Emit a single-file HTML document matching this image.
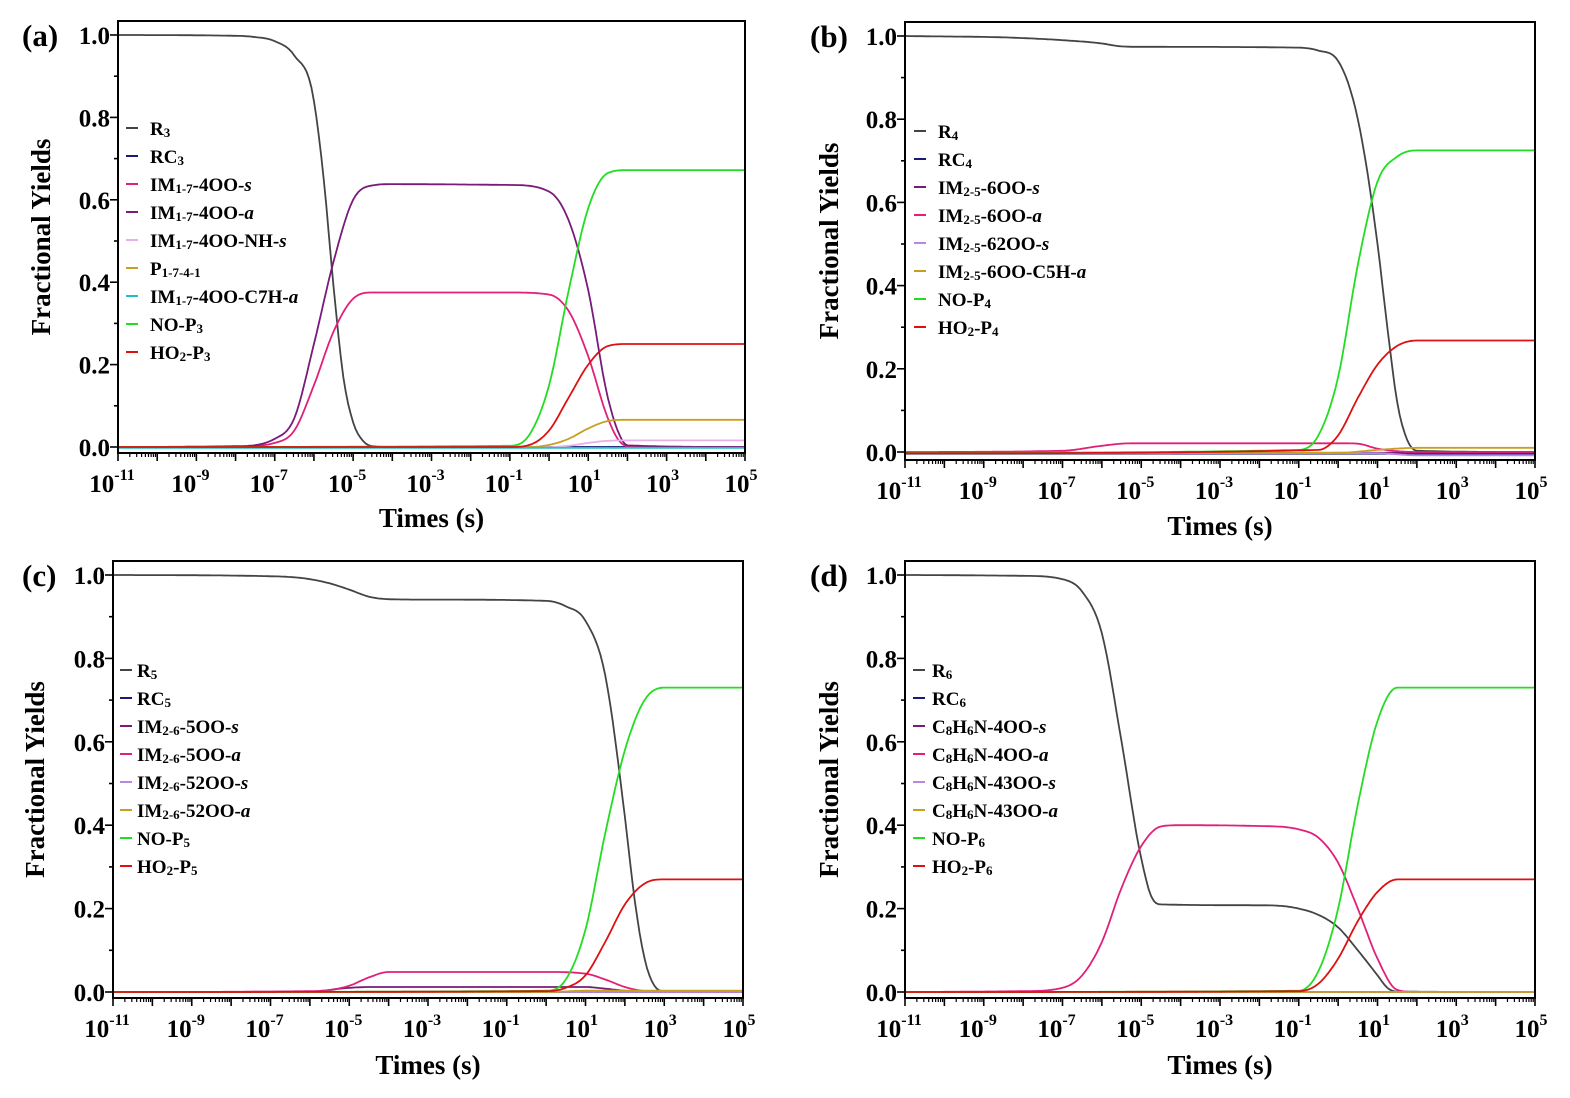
<!DOCTYPE html>
<html><head><meta charset="utf-8"><style>
body{margin:0;background:#fff;}
svg{display:block;font-family:"Liberation Serif",serif;font-weight:bold;}
</style></head><body>
<svg id="fig" width="1570" height="1098" viewBox="0 0 1570 1098"></svg>
<script>
// ---------- data (x = log10 time, y = fractional yield) ----------
const xTickExps = [-11,-9,-7,-5,-3,-1,1,3,5];
const yTickLabels = ["0.0","0.2","0.4","0.6","0.8","1.0"];
const yTickValues = [0,0.2,0.4,0.6,0.8,1.0];

const aR3   = [[-11,1],[-8,0.998],[-7.5,0.995],[-7,0.985],[-6.5,0.95],[-6,0.84],[-5.75,0.65],[-5.5,0.39],[-5.25,0.17],[-5,0.06],[-4.75,0.015],[-4.5,0.002],[-4,0],[5,0]];
const aRC3  = [[-11,0],[5,0]];
const aIMs  = [[-11,0],[-8,0.001],[-7,0.01],[-6.5,0.04],[-6,0.15],[-5.5,0.28],[-5,0.36],[-4.5,0.375],[-1,0.375],[0,0.37],[0.5,0.33],[1,0.22],[1.5,0.07],[1.75,0.02],[2,0.002],[5,0]];
const aIMa  = [[-11,0],[-8,0.002],[-7,0.02],[-6.5,0.07],[-6,0.25],[-5.5,0.45],[-5,0.6],[-4.5,0.635],[-4,0.638],[-1,0.636],[0,0.62],[0.5,0.55],[1,0.38],[1.5,0.12],[1.75,0.04],[2,0.004],[5,0]];
const aNHs  = [[-11,0],[0,0],[0.5,0.003],[1,0.01],[1.5,0.015],[2,0.016],[5,0.016]];
const aP    = [[-11,0],[-0.5,0],[0,0.005],[0.5,0.02],[1,0.045],[1.5,0.063],[2,0.066],[5,0.066]];
const aC7H  = [[-11,-0.002],[5,-0.002]];
const aNO   = [[-11,0],[-1,0.003],[-0.5,0.03],[0,0.15],[0.5,0.38],[1,0.58],[1.5,0.665],[2,0.672],[5,0.672]];
const aHO2  = [[-11,0],[-1,0],[-0.5,0.005],[0,0.04],[0.5,0.12],[1,0.2],[1.5,0.245],[2,0.25],[5,0.25]];

const bR4   = [[-11,1],[-8,0.995],[-7,0.99],[-6,0.982],[-5.5,0.975],[-5,0.974],[-1,0.972],[-0.5,0.965],[0,0.94],[0.5,0.8],[1,0.5],[1.25,0.3],[1.5,0.12],[1.75,0.03],[2,0.003],[5,0]];
const bRC4  = [[-11,-0.004],[5,-0.004]];
const bIMs  = [[-11,-0.002],[5,-0.002]];
const bIMa  = [[-11,0],[-7,0.003],[-6,0.015],[-5.5,0.02],[-5,0.021],[0,0.021],[0.5,0.02],[1,0.008],[1.5,0.002],[2,0],[5,0]];
const b62s  = [[-11,-0.003],[1,-0.003],[2,-0.008],[5,-0.008]];
const bC5H  = [[-11,-0.003],[0,-0.002],[1,0.005],[2,0.01],[5,0.01]];
const bNO   = [[-11,-0.002],[-1,0.005],[-0.5,0.04],[0,0.18],[0.5,0.45],[1,0.65],[1.5,0.71],[2,0.725],[5,0.725]];
const bHO2  = [[-11,-0.003],[-0.5,0.005],[0,0.04],[0.5,0.13],[1,0.21],[1.5,0.255],[2,0.268],[5,0.268]];

const cR5   = [[-11,1],[-7,0.997],[-6,0.99],[-5.5,0.98],[-5,0.965],[-4.5,0.948],[-4,0.942],[-3,0.941],[0,0.938],[0.5,0.925],[1,0.89],[1.5,0.76],[2,0.42],[2.25,0.22],[2.5,0.08],[2.75,0.015],[3,0.002],[5,0]];
const cRC5  = [[-11,0],[5,0]];
const cIMs  = [[-11,0],[-6,0.001],[-5,0.01],[-4.5,0.012],[1,0.012],[1.5,0.008],[2,0.003],[2.5,0],[5,0]];
const cIMa  = [[-11,0],[-6,0.002],[-5,0.015],[-4.5,0.035],[-4,0.048],[0,0.048],[1,0.044],[1.5,0.03],[2,0.012],[2.5,0.002],[3,0],[5,0]];
const c52s  = [[-11,0],[5,0]];
const c52a  = [[-11,0],[0,0],[1,0.003],[5,0.003]];
const cNO   = [[-11,0],[0,0.003],[0.5,0.03],[1,0.15],[1.5,0.38],[2,0.58],[2.5,0.7],[3,0.73],[5,0.73]];
const cHO2  = [[-11,0],[0,0.002],[0.5,0.01],[1,0.04],[1.5,0.12],[2,0.21],[2.5,0.26],[3,0.27],[5,0.27]];

const dR6   = [[-11,1],[-8,0.998],[-7,0.99],[-6.5,0.96],[-6,0.86],[-5.5,0.6],[-5,0.32],[-4.75,0.23],[-4.5,0.21],[-2,0.208],[-1,0.2],[-0.5,0.185],[0,0.155],[0.5,0.1],[1,0.04],[1.25,0.01],[1.5,0.001],[5,0]];
const dRC6  = [[-11,0],[5,0]];
const dIMs  = [[-11,0],[5,0]];
const dIMa  = [[-11,0],[-8,0.002],[-7,0.01],[-6.5,0.04],[-6,0.12],[-5.5,0.25],[-5,0.35],[-4.5,0.397],[-4,0.4],[-2,0.398],[-1,0.39],[-0.5,0.37],[0,0.31],[0.5,0.2],[1,0.08],[1.5,0.005],[2,0],[5,0]];
const d43s  = [[-11,0],[5,0]];
const d43a  = [[-11,0],[5,0]];
const dNO   = [[-11,0],[-1,0.003],[-0.5,0.05],[0,0.2],[0.5,0.45],[1,0.65],[1.5,0.73],[5,0.73]];
const dHO2  = [[-11,0],[-1,0.002],[-0.5,0.02],[0,0.08],[0.5,0.17],[1,0.24],[1.5,0.27],[5,0.27]];

// ---------- drawing ----------
const NS="http://www.w3.org/2000/svg";
const svg=document.getElementById('fig');
function mk(tag,attrs,parent){const e=document.createElementNS(NS,tag);for(const k in attrs)e.setAttribute(k,attrs[k]);(parent||svg).appendChild(e);return e;}

const COL={R:'#444444',RC:'#1a1a7a',pink:'#e0207a',purple:'#7a1a7a',lpink:'#e8b0e8',lav:'#b58ae0',gold:'#c8a020',cyan:'#20c0c8',green:'#22dd22',red:'#dd1111'};

function monotone(pts){
  const n=pts.length,xs=pts.map(p=>p[0]),ys=pts.map(p=>p[1]);
  if(n<3)return pts;
  const d=[],m=new Array(n);
  for(let i=0;i<n-1;i++)d.push((ys[i+1]-ys[i])/(xs[i+1]-xs[i]));
  m[0]=d[0];m[n-1]=d[n-2];
  for(let i=1;i<n-1;i++){
    if(d[i-1]*d[i]<=0){m[i]=0;}
    else{const h0=xs[i]-xs[i-1],h1=xs[i+1]-xs[i];m[i]=(d[i-1]*h1+d[i]*h0)/(h0+h1);}
  }
  for(let i=0;i<n-1;i++){if(d[i]===0){m[i]=0;m[i+1]=0;continue;}const a=m[i]/d[i],b=m[i+1]/d[i],s=a*a+b*b;if(s>9){const t=3/Math.sqrt(s);m[i]=t*a*d[i];m[i+1]=t*b*d[i];}}
  const out=[];
  for(let i=0;i<n-1;i++){const h=xs[i+1]-xs[i];const steps=Math.max(2,Math.ceil(h*16));
    for(let k=0;k<steps;k++){const t=k/steps,t2=t*t,t3=t2*t;
      const y=(2*t3-3*t2+1)*ys[i]+(t3-2*t2+t)*h*m[i]+(-2*t3+3*t2)*ys[i+1]+(t3-t2)*h*m[i+1];
      out.push([xs[i]+t*h,y]);}}
  out.push([xs[n-1],ys[n-1]]);return out;
}

function panel(cfg){
  const g=mk('g',{});
  
  
  const X=v=>cfg.x0+(v+11)/16*(cfg.x1-cfg.x0);
  const Y=v=>cfg.y0+v*(cfg.y1-cfg.y0);
  const sg=mk('g',{},g);
  
  
  cfg.series.forEach(s=>{
    const pts=monotone(s.data);
    const dstr=pts.map((p,i)=>(i?'L':'M')+X(p[0]).toFixed(1)+','+Y(p[1]).toFixed(1)).join('');
    const p=mk('path',{d:dstr,fill:'none',stroke:s.c,'stroke-width':1.8,'stroke-linejoin':'round'},sg);
    
    
  });
  const fr=mk('rect',{x:cfg.x0,y:cfg.top,width:cfg.x1-cfg.x0,height:cfg.bot-cfg.top,fill:'none',stroke:'#000','stroke-width':2},g);
  
  
  for(let e=-11;e<=5;e++){
    mk('line',{x1:X(e),x2:X(e),y1:cfg.bot,y2:cfg.bot+8,stroke:'#000','stroke-width':1.6},g);
    if(e<5)for(let k=2;k<=9;k++){const xv=X(e+Math.log10(k));mk('line',{x1:xv,x2:xv,y1:cfg.bot,y2:cfg.bot+4,stroke:'#000','stroke-width':1.2},g);}
  }
  xTickExps.forEach(e=>{
    const t=mk('text',{x:X(e)+(e<0?-6:-4),y:cfg.bot+39,'font-size':25,'text-anchor':'middle'},g);
    
    
    t.innerHTML='10<tspan font-size="16" dy="-12">'+e+'</tspan>';
  });
  for(let i=0;i<=10;i++){const v=i/10;const yy=Y(v);mk('line',{x1:cfg.x0-(i%2?4:8),x2:cfg.x0,y1:yy,y2:yy,stroke:'#000','stroke-width':1.6},g);}
  yTickValues.forEach((v,i)=>{
    const t=mk('text',{x:cfg.x0-8,y:Y(v)+9,'font-size':25,'text-anchor':'end'},g);
    
    
    t.textContent=yTickLabels[i];
  });
  const xt=mk('text',{x:(cfg.x0+cfg.x1)/2,y:cfg.xtitleY,'font-size':27,'text-anchor':'middle'},g);
  
  
  xt.textContent='Times (s)';
  const yt=mk('text',{x:0,y:0,'font-size':27,'text-anchor':'middle',transform:'translate('+cfg.ytitleX+','+((cfg.top+cfg.bot)/2)+') rotate(-90)'},g);
  
  
  yt.textContent='Fractional Yields';
  const lt=mk('text',{x:cfg.letterX,y:cfg.top+25,'font-size':31},g);
  
  
  lt.textContent='('+cfg.id+')';
  const lg=mk('g',{},g);
  
  
  cfg.series.forEach((s,i)=>{
    const yy=cfg.legY+i*28;
    const e=mk('g',{},lg);
    
    
    mk('line',{x1:cfg.legX,x2:cfg.legX+12,y1:yy,y2:yy,stroke:s.c,'stroke-width':2},e);
    const t=mk('text',{x:cfg.legX+cfg.legGap,y:yy+7,'font-size':19},e);
    t.innerHTML=s.label;
  });
}
const sub=s=>'<tspan font-size="13" dy="2">'+s+'</tspan><tspan dy="-2">';
const E='</tspan>';

panel({id:'a',x0:118,x1:745,top:21,bot:453,y0:447,y1:35,xtitleY:527,ytitleX:50,letterX:22,legX:126,legGap:24,legY:128,series:[
 {key:'R3',c:COL.R,data:aR3,label:'R'+sub('3')+E},
 {key:'RC3',c:COL.RC,data:aRC3,label:'RC'+sub('3')+E},
 {key:'IM-4OO-s',c:COL.pink,data:aIMs,label:'IM'+sub('1-7')+'-4OO-<tspan font-style="italic">s</tspan>'+E},
 {key:'IM-4OO-a',c:COL.purple,data:aIMa,label:'IM'+sub('1-7')+'-4OO-<tspan font-style="italic">a</tspan>'+E},
 {key:'IM-4OO-NH-s',c:COL.lpink,data:aNHs,label:'IM'+sub('1-7')+'-4OO-NH-<tspan font-style="italic">s</tspan>'+E},
 {key:'P1-7-4-1',c:COL.gold,data:aP,label:'P'+sub('1-7-4-1')+E},
 {key:'IM-4OO-C7H-a',c:COL.cyan,data:aC7H,label:'IM'+sub('1-7')+'-4OO-C7H-<tspan font-style="italic">a</tspan>'+E},
 {key:'NO-P3',c:COL.green,data:aNO,label:'NO-P'+sub('3')+E},
 {key:'HO2-P3',c:COL.red,data:aHO2,label:'HO'+sub('2')+'-P'+sub('3')+E+E}]});

panel({id:'b',x0:905,x1:1535,top:22,bot:460,y0:452,y1:36,xtitleY:535,ytitleX:838,letterX:810,legX:914,legGap:24,legY:131,series:[
 {key:'R4',c:COL.R,data:bR4,label:'R'+sub('4')+E},
 {key:'RC4',c:COL.RC,data:bRC4,label:'RC'+sub('4')+E},
 {key:'IM-6OO-s',c:COL.purple,data:bIMs,label:'IM'+sub('2-5')+'-6OO-<tspan font-style="italic">s</tspan>'+E},
 {key:'IM-6OO-a',c:COL.pink,data:bIMa,label:'IM'+sub('2-5')+'-6OO-<tspan font-style="italic">a</tspan>'+E},
 {key:'IM-62OO-s',c:COL.lav,data:b62s,label:'IM'+sub('2-5')+'-62OO-<tspan font-style="italic">s</tspan>'+E},
 {key:'IM-6OO-C5H-a',c:COL.gold,data:bC5H,label:'IM'+sub('2-5')+'-6OO-C5H-<tspan font-style="italic">a</tspan>'+E},
 {key:'NO-P4',c:COL.green,data:bNO,label:'NO-P'+sub('4')+E},
 {key:'HO2-P4',c:COL.red,data:bHO2,label:'HO'+sub('2')+'-P'+sub('4')+E+E}]});

panel({id:'c',x0:113,x1:743,top:561,bot:998,y0:992,y1:575,xtitleY:1074,ytitleX:44,letterX:22,legX:120,legGap:17,legY:670,series:[
 {key:'R5',c:COL.R,data:cR5,label:'R'+sub('5')+E},
 {key:'RC5',c:COL.RC,data:cRC5,label:'RC'+sub('5')+E},
 {key:'IM-5OO-s',c:COL.purple,data:cIMs,label:'IM'+sub('2-6')+'-5OO-<tspan font-style="italic">s</tspan>'+E},
 {key:'IM-5OO-a',c:COL.pink,data:cIMa,label:'IM'+sub('2-6')+'-5OO-<tspan font-style="italic">a</tspan>'+E},
 {key:'IM-52OO-s',c:COL.lav,data:c52s,label:'IM'+sub('2-6')+'-52OO-<tspan font-style="italic">s</tspan>'+E},
 {key:'IM-52OO-a',c:COL.gold,data:c52a,label:'IM'+sub('2-6')+'-52OO-<tspan font-style="italic">a</tspan>'+E},
 {key:'NO-P5',c:COL.green,data:cNO,label:'NO-P'+sub('5')+E},
 {key:'HO2-P5',c:COL.red,data:cHO2,label:'HO'+sub('2')+'-P'+sub('5')+E+E}]});

panel({id:'d',x0:905,x1:1535,top:561,bot:998,y0:992,y1:575,xtitleY:1074,ytitleX:838,letterX:810,legX:913,legGap:19,legY:670,series:[
 {key:'R6',c:COL.R,data:dR6,label:'R'+sub('6')+E},
 {key:'RC6',c:COL.RC,data:dRC6,label:'RC'+sub('6')+E},
 {key:'C8H6N-4OO-s',c:COL.purple,data:dIMs,label:'C'+sub('8')+'H'+sub('6')+'N-4OO-<tspan font-style="italic">s</tspan>'+E+E},
 {key:'C8H6N-4OO-a',c:COL.pink,data:dIMa,label:'C'+sub('8')+'H'+sub('6')+'N-4OO-<tspan font-style="italic">a</tspan>'+E+E},
 {key:'C8H6N-43OO-s',c:COL.lav,data:d43s,label:'C'+sub('8')+'H'+sub('6')+'N-43OO-<tspan font-style="italic">s</tspan>'+E+E},
 {key:'C8H6N-43OO-a',c:COL.gold,data:d43a,label:'C'+sub('8')+'H'+sub('6')+'N-43OO-<tspan font-style="italic">a</tspan>'+E+E},
 {key:'NO-P6',c:COL.green,data:dNO,label:'NO-P'+sub('6')+E},
 {key:'HO2-P6',c:COL.red,data:dHO2,label:'HO'+sub('2')+'-P'+sub('6')+E+E}]});
</script>
</body></html>
